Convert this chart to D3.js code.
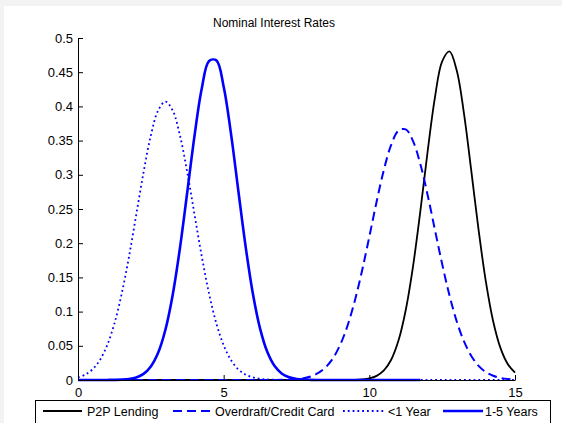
<!DOCTYPE html>
<html>
<head>
<meta charset="utf-8">
<script src="https://cdn.jsdelivr.net/npm/d3@7.9.0/dist/d3.min.js"></script>
<style>
  html, body { margin: 0; padding: 0; background: #f3f3f3; }
  svg { display: block; }
  text { font-family: "Liberation Sans", Arial, sans-serif; fill: #000; }
</style>
</head>
<body>
<svg id="chart" width="562" height="423"></svg>
<script>
// sample positions (x axis)
const xs = [0, 0.25, 0.5, 0.75, 1, 1.25, 1.5, 1.75, 2, 2.25, 2.5, 2.75, 3, 3.25, 3.5, 3.75,
  4, 4.25, 4.5, 4.75, 5, 5.25, 5.5, 5.75, 6, 6.25, 6.5, 6.75, 7, 7.25, 7.5, 7.75,
  8, 8.25, 8.5, 8.75, 9, 9.25, 9.5, 9.75, 10, 10.25, 10.5, 10.75, 11, 11.25, 11.5, 11.75,
  12, 12.25, 12.5, 12.75, 13, 13.25, 13.5, 13.75, 14, 14.25, 14.5, 14.75, 15];

// values
const p2p = [0, 0, 0, 0, 0, 0, 0, 0, 0, 0, 0, 0, 0, 0, 0, 0,
  0, 0, 0, 0, 0, 0, 0, 0, 0, 0, 0, 0, 0, 0, 0, 0,
  0, 0, 0, 0, 0, 0.0001, 0.0002, 0.0008, 0.0023, 0.0060, 0.0139, 0.0296, 0.0576, 0.1024, 0.1662, 0.2464,
  0.3337, 0.4126, 0.4658, 0.4804, 0.4525, 0.3892, 0.3058, 0.2194, 0.1438, 0.0860, 0.0470, 0.0235, 0.0107];

const overdraft = [0, 0, 0, 0, 0, 0, 0, 0, 0, 0, 0, 0, 0, 0, 0, 0,
  0, 0, 0, 0, 0, 0, 0, 0, 0, 0, 0, 0, 0.0002, 0.0006, 0.0013, 0.0027,
  0.0054, 0.0103, 0.0185, 0.0317, 0.0515, 0.0792, 0.1156, 0.1598, 0.2096, 0.2607, 0.3074, 0.3438, 0.3645, 0.3665, 0.3493, 0.3158,
  0.2706, 0.2199, 0.1695, 0.1238, 0.0857, 0.0564, 0.0351, 0.0207, 0.0116, 0.0062, 0.0031, 0.0015, 0.0007];

const lessOne = [0.0038, 0.0079, 0.0157, 0.0291, 0.0507, 0.0826, 0.1261, 0.1803, 0.2418, 0.3037, 0.3574, 0.3940, 0.4070, 0.3940, 0.3574, 0.3037,
  0.2418, 0.1803, 0.1261, 0.0826, 0.0507, 0.0291, 0.0157, 0.0079, 0.0038, 0.0017, 0.0007, 0.0003, 0.0001, 0, 0, 0,
  0, 0, 0, 0, 0, 0, 0, 0, 0, 0, 0, 0, 0, 0, 0, 0,
  0, 0, 0, 0, 0, 0, 0, 0, 0, 0, 0, 0, 0];

const oneFive = [0, 0, 0, 0, 0.0001, 0.0002, 0.0005, 0.0014, 0.0037, 0.0089, 0.0197, 0.0397, 0.0735, 0.1244, 0.1930, 0.2745,
  0.3573, 0.4266, 0.4664, 0.4673, 0.4288, 0.3606, 0.2778, 0.1962, 0.1268, 0.0751, 0.0408, 0.0203, 0.0092, 0.0039, 0.0015, 0.0005,
  0.0002, 0, 0, 0, 0, 0, 0, 0, 0, 0, 0, 0, 0, 0, 0, 0,
  null, null, null, null, null, null, null, null, null, null, null, null, null];

const seriesNames = ['P2P Lending', 'Overdraft/Credit Card', '<1 Year', '1-5 Years'];
const xTicks = [0, 5, 10, 15];
const yTicks = [0, 0.05, 0.1, 0.15, 0.2, 0.25, 0.3, 0.35, 0.4, 0.45, 0.5];
const yTickLabels = ['0', '0.05', '0.1', '0.15', '0.2', '0.25', '0.3', '0.35', '0.4', '0.45', '0.5'];

const svg = d3.select('#chart');

// white figure area
svg.append('rect')
  .attr('x', 4).attr('y', 6)
  .attr('width', 558).attr('height', 417)
  .attr('fill', '#fff');

const x = d3.scaleLinear().domain([0, 15]).range([78, 515]);
const y = d3.scaleLinear().domain([0, 0.5]).range([380, 38]);

// title
svg.append('text')
  .attr('x', 274).attr('y', 27)
  .attr('text-anchor', 'middle')
  .style('font-size', '12px')
  .text('Nominal Interest Rates');

// lines
const styles = [
  { data: p2p, color: '#000', width: 1.8, dash: null },
  { data: overdraft, color: '#0000ff', width: 2, dash: '9,5' },
  { data: lessOne, color: '#0000ff', width: 1.8, dash: '1.8,3' },
  { data: oneFive, color: '#0000ff', width: 2.6, dash: null }
];

const line = d3.line()
  .defined((d) => d[1] !== null)
  .x((d) => x(d[0]))
  .y((d) => y(Math.max(0, d[1])))
  .curve(d3.curveCatmullRom.alpha(0.5));

styles.forEach((s) => {
  svg.append('path')
    .attr('d', line(xs.map((v, i) => [v, s.data[i]])))
    .attr('fill', 'none')
    .attr('stroke', s.color)
    .attr('stroke-width', s.width)
    .attr('stroke-dasharray', s.dash);
});

// axes (ticks point inward)
const xAxis = svg.append('g')
  .attr('transform', `translate(0,${y(0)})`)
  .call(d3.axisBottom(x).tickValues(xTicks).tickFormat(d3.format('d'))
    .tickSizeInner(-5).tickSizeOuter(0).tickPadding(8));

const yAxis = svg.append('g')
  .attr('transform', `translate(${x(0)},0)`)
  .call(d3.axisLeft(y).tickValues(yTicks).tickFormat((d, i) => yTickLabels[i])
    .tickSizeInner(-5).tickSizeOuter(0).tickPadding(5));

[xAxis, yAxis].forEach((g) => {
  g.selectAll('text').style('font-size', '13px').style('font-family', '"Liberation Sans", Arial, sans-serif').attr('fill', '#000');
  g.selectAll('line').attr('stroke', '#000');
  g.select('.domain').attr('stroke', '#000');
});

// legend
const legend = svg.append('g');
legend.append('rect')
  .attr('x', 35.5).attr('y', 400.5)
  .attr('width', 515).attr('height', 30)
  .attr('fill', '#fff')
  .attr('stroke', '#000');

const legendPos = [
  { x1: 43, x2: 82, tx: 87 },
  { x1: 173, x2: 212, tx: 215 },
  { x1: 343, x2: 385, tx: 388 },
  { x1: 443, x2: 483, tx: 485 }
];

seriesNames.forEach((name, i) => {
  const p = legendPos[i];
  const s = styles[i];
  legend.append('line')
    .attr('x1', p.x1).attr('x2', p.x2)
    .attr('y1', 411).attr('y2', 411)
    .attr('stroke', s.color)
    .attr('stroke-width', s.width)
    .attr('stroke-dasharray', s.dash);
  legend.append('text')
    .attr('x', p.tx).attr('y', 416)
    .style('font-size', '12.5px')
    .text(name);
});
</script>
</body>
</html>
